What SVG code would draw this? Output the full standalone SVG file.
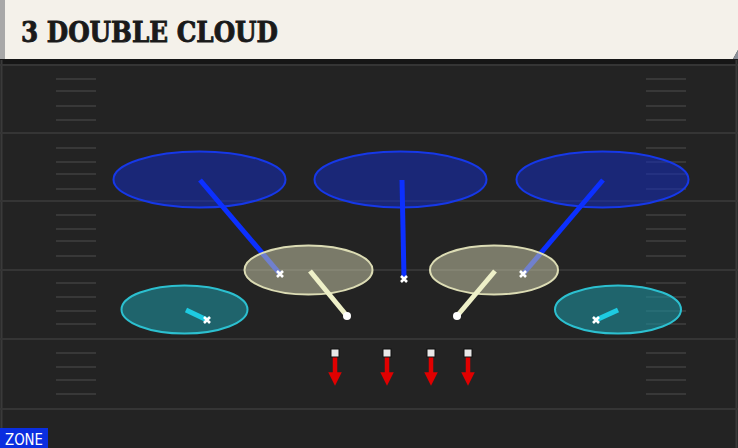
<svg xmlns="http://www.w3.org/2000/svg" width="738" height="448" viewBox="0 0 738 448">
<defs>
<style>
.yard{stroke:#353535;stroke-width:2}
.hash{stroke:#383838;stroke-width:2}
.deep{fill:#142cbe;fill-opacity:0.55;stroke:#1638e8;stroke-width:2}
.flat{fill:#c3c3a4;fill-opacity:0.55;stroke:#dcdcb4;stroke-width:2}
.curl{fill:#1d8f9c;fill-opacity:0.6;stroke:#2cc0d0;stroke-width:2}
.rb{stroke:#0c30ff;stroke-width:5}
.rk{stroke:#eef0c8;stroke-width:5}
.rc{stroke:#1ecbe2;stroke-width:5}
.x{stroke:#ffffff;stroke-width:2.6}
.rush{stroke:#e00000;stroke-width:4.5}
</style>
<marker id="ah" viewBox="0 0 10 10" refX="5" refY="5" markerWidth="3" markerHeight="3" orient="auto">
<path d="M0,0 L10,5 L0,10 Z" fill="#e00000"/>
</marker>
</defs>
<rect x="0" y="0" width="738" height="448" fill="#232323"/>
<rect x="0" y="59" width="738" height="5" fill="#161616"/>
<line x1="1.5" y1="60" x2="1.5" y2="448" stroke="#3a3a3a" stroke-width="2"/>
<line x1="736.5" y1="60" x2="736.5" y2="448" stroke="#3a3a3a" stroke-width="2"/>
<g id="field">
<line class="yard" x1="0" y1="65" x2="738" y2="65"/>
<line class="yard" x1="0" y1="133" x2="738" y2="133"/>
<line class="yard" x1="0" y1="201" x2="738" y2="201"/>
<line class="yard" x1="0" y1="270" x2="738" y2="270"/>
<line class="yard" x1="0" y1="339" x2="738" y2="339"/>
<line class="yard" x1="0" y1="409" x2="738" y2="409"/>
<path class="hash" d="M56,79H96M56,91H96M56,106H96M56,120H96M56,148H96M56,162H96M56,174H96M56,189H96M56,215H96M56,229H96M56,241H96M56,256H96M56,283H96M56,297H96M56,311H96M56,324H96M56,353H96M56,367H96M56,380H96M56,394H96"/>
<path class="hash" d="M646,79H686M646,91H686M646,106H686M646,120H686M646,148H686M646,162H686M646,174H686M646,189H686M646,215H686M646,229H686M646,241H686M646,256H686M646,283H686M646,297H686M646,311H686M646,324H686M646,353H686M646,367H686M646,380H686M646,394H686"/>
</g>
<g id="title">
<path d="M0,0H738V50L733,59H0Z" fill="#f4f1ea"/>
<path d="M738,50L733,59H738Z" fill="#8a8f98"/>
<rect x="0" y="0" width="5" height="59" fill="#a8a8a8"/>
<text x="21" y="42" font-family="DejaVu Serif, serif" font-weight="bold" font-size="27" fill="#1a1a1a" stroke="#1a1a1a" stroke-width="0.9" textLength="257" lengthAdjust="spacingAndGlyphs">3 DOUBLE CLOUD</text>
</g>
<g id="zone-deep-left"><ellipse class="deep" cx="199.5" cy="179.5" rx="86" ry="28"/></g>
<g id="zone-deep-middle"><ellipse class="deep" cx="400.5" cy="179.5" rx="86" ry="28"/></g>
<g id="zone-deep-right"><ellipse class="deep" cx="602.5" cy="179.5" rx="86" ry="28"/></g>
<g id="zone-curl-left"><ellipse class="curl" cx="184.5" cy="309.5" rx="63" ry="24"/></g>
<g id="zone-curl-right"><ellipse class="curl" cx="618" cy="309.5" rx="63" ry="24"/></g>
<g id="connectors">
<line class="rb" x1="200" y1="180" x2="280" y2="274"/>
<line class="rb" x1="402" y1="180" x2="404" y2="278"/>
<line class="rb" x1="603" y1="180" x2="523" y2="274"/>
<line class="rc" x1="186" y1="310" x2="207" y2="320"/>
<line class="rc" x1="618" y1="310" x2="596" y2="320"/>
</g>
<g id="zone-flat-left"><ellipse class="flat" cx="308.5" cy="270" rx="64" ry="24.5"/></g>
<g id="zone-flat-right"><ellipse class="flat" cx="494" cy="270" rx="64" ry="24.5"/></g>
<g id="flat-drops">
<line class="rk" x1="310" y1="271" x2="347" y2="316"/>
<circle cx="347" cy="316" r="4" fill="#ffffff"/>
<line class="rk" x1="495" y1="271" x2="457" y2="316"/>
<circle cx="457" cy="316" r="4" fill="#ffffff"/>
</g>
<g id="defenders">
<path class="x" d="M277,271L283,277M283,271L277,277"/>
<path class="x" d="M401,276L407,282M407,276L401,282"/>
<path class="x" d="M520,271L526,277M526,271L520,277"/>
<path class="x" d="M204,317L210,323M210,317L204,323"/>
<path class="x" d="M593,317L599,323M599,317L593,323"/>
</g>
<g id="rushers">
<g id="rusher-1"><line class="rush" x1="335" y1="357" x2="335" y2="379" marker-end="url(#ah)"/><rect x="331" y="349" width="8" height="8" fill="#e8e8e8" stroke="#111" stroke-width="1"/></g>
<g id="rusher-2"><line class="rush" x1="387" y1="357" x2="387" y2="379" marker-end="url(#ah)"/><rect x="383" y="349" width="8" height="8" fill="#e8e8e8" stroke="#111" stroke-width="1"/></g>
<g id="rusher-3"><line class="rush" x1="431" y1="357" x2="431" y2="379" marker-end="url(#ah)"/><rect x="427" y="349" width="8" height="8" fill="#e8e8e8" stroke="#111" stroke-width="1"/></g>
<g id="rusher-4"><line class="rush" x1="468" y1="357" x2="468" y2="379" marker-end="url(#ah)"/><rect x="464" y="349" width="8" height="8" fill="#e8e8e8" stroke="#111" stroke-width="1"/></g>
</g>
<g id="zone-tag">
<rect x="0" y="428" width="48" height="20" fill="#0a2ee0"/>
<text x="5" y="445" font-family="DejaVu Sans, sans-serif" font-size="16" fill="#ffffff" textLength="38" lengthAdjust="spacingAndGlyphs">ZONE</text>
</g>
</svg>
